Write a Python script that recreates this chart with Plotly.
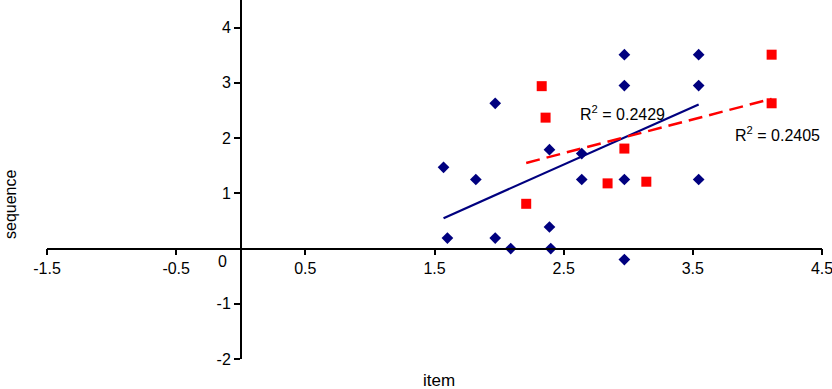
import plotly.graph_objects as go

# Blue series (diamonds)
blue_x = [1.57, 1.60, 1.82, 1.97, 1.97, 2.09, 2.39, 2.39, 2.40, 2.64, 2.64, 2.97, 2.97, 2.97, 2.97, 3.545, 3.545, 3.545]
blue_y = [1.47, 0.19, 1.25, 2.63, 0.19, 0.00, 1.79, 0.39, 0.00, 1.72, 1.25, 3.51, 2.95, 1.25, -0.20, 3.51, 2.95, 1.25]

# Red series (squares)
red_x = [2.21, 2.33, 2.36, 2.84, 2.97, 3.14, 4.11, 4.11]
red_y = [0.81, 2.94, 2.37, 1.18, 1.81, 1.21, 3.51, 2.63]

# Trend line endpoints
blue_trend_x = [1.57, 3.545]
blue_trend_y = [0.55, 2.61]
red_trend_x = [2.21, 4.11]
red_trend_y = [1.55, 2.71]

r2_labels = ["R<sup>2</sup> = 0.2429", "R<sup>2</sup> = 0.2405"]

x_ticks = [-1.5, -0.5, 0.5, 1.5, 2.5, 3.5, 4.5]
y_ticks = [-2, -1, 1, 2, 3, 4]

x_range = [-1.5, 4.5]
y_range = [-2, 4.5]

FONT = "Liberation Sans, Arial, Helvetica, sans-serif"
FS = 16

fig = go.Figure()
fig.add_trace(go.Scatter(x=blue_trend_x, y=blue_trend_y, mode="lines",
                         line=dict(color="#00007f", width=2.2), hoverinfo="skip"))
fig.add_trace(go.Scatter(x=red_trend_x, y=red_trend_y, mode="lines",
                         line=dict(color="#ff0000", width=2.5, dash="14px,7px"), hoverinfo="skip"))
fig.add_trace(go.Scatter(x=blue_x, y=blue_y, mode="markers",
                         marker=dict(symbol="diamond", color="#00007f", size=9)))
fig.add_trace(go.Scatter(x=red_x, y=red_y, mode="markers",
                         marker=dict(symbol="square", color="#ff0000", size=10)))

xpos = (0 - y_range[0]) / (y_range[1] - y_range[0])
ypos = (0 - x_range[0]) / (x_range[1] - x_range[0])

L, R, T, B = 47, 10, 0, 30
PW = 832 - L - R
PH = 389 - T - B

fig.update_layout(
    width=832, height=389,
    margin=dict(l=L, r=R, t=T, b=B),
    paper_bgcolor="white", plot_bgcolor="white",
    showlegend=False,
    font=dict(family=FONT, size=FS, color="black"),
    xaxis=dict(range=x_range, tickvals=x_ticks, ticktext=[str(v) for v in x_ticks],
               showgrid=False, zeroline=False, showline=True, linecolor="black", linewidth=1.5,
               ticks="outside", ticklen=6, tickwidth=1.5, tickcolor="black",
               tickfont=dict(size=FS), ticklabeloverflow="allow",
               anchor="free", position=xpos, domain=[0, 1]),
    yaxis=dict(range=y_range, tickvals=y_ticks, ticktext=[str(v) for v in y_ticks],
               showgrid=False, zeroline=False, showline=True, linecolor="black", linewidth=1.5,
               ticks="outside", ticklen=6, tickwidth=1.5, tickcolor="black",
               tickfont=dict(size=FS), ticklabeloverflow="allow",
               anchor="free", position=ypos, domain=[0, 1]),
)

fig.add_annotation(x=-0.144, y=-0.23, xref="x", yref="y", text="0", showarrow=False,
                   font=dict(size=FS))
fig.add_annotation(x=2.61, y=2.45, xref="x", yref="y", text=r2_labels[0], showarrow=False,
                   xanchor="left", font=dict(size=FS))
fig.add_annotation(x=3.81, y=2.07, xref="x", yref="y", text=r2_labels[1], showarrow=False,
                   xanchor="left", font=dict(size=FS))
fig.add_annotation(x=(439 - L) / PW, y=(PH - 380) / PH, xref="paper", yref="paper",
                   text="item", showarrow=False, yanchor="middle", font=dict(size=17))
fig.add_annotation(x=(10 - L) / PW, y=(PH - 205) / PH, xref="paper", yref="paper",
                   text="sequence", textangle=-90, showarrow=False, xanchor="center",
                   yanchor="middle", font=dict(size=FS))

fig.write_html("out.html", config={"displayModeBar": False},
               post_script="document.body.style.margin='0';document.body.style.overflow='hidden';")
